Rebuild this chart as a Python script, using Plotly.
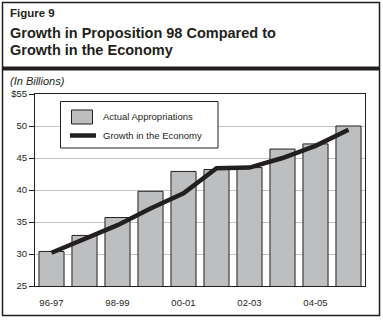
import plotly.graph_objects as go

# Fiscal years and values (billions of dollars)
years = ["96-97", "97-98", "98-99", "99-00", "00-01",
         "01-02", "02-03", "03-04", "04-05", "05-06"]
actual_appropriations = [30.4, 32.9, 35.7, 39.8, 42.9, 43.2, 43.5, 46.4, 47.2, 50.0]
economy_growth = [30.2, 32.3, 34.5, 37.1, 39.5, 43.4, 43.5, 45.0, 46.9, 49.4]
x_tick_labels = ["96-97", "98-99", "00-01", "02-03", "04-05"]
y_ticks = [25, 30, 35, 40, 45, 50, 55]
y_tick_text = ["25", "30", "35", "40", "45", "50", "$55"]

INK = "#231f20"
BAR_GRAY = "#bcbec0"
FONT = "Liberation Sans, Arial, sans-serif"

W, H = 383, 322
L, R, T, B = 35, 365, 94, 286  # plot area in pixels


def px(x):
    return (x - L) / (R - L)


def py(y):
    return (B - y) / (B - T)


fig = go.Figure()
fig.add_trace(go.Bar(
    x=years, y=actual_appropriations, name="Actual Appropriations",
    marker=dict(color=BAR_GRAY, line=dict(color=INK, width=1)),
    showlegend=False,
))
fig.add_trace(go.Scatter(
    x=years, y=economy_growth, name="Growth in the Economy", mode="lines",
    line=dict(color=INK, width=4.5), showlegend=False,
))

shapes = [
    # outer frame
    dict(type="rect", xref="paper", yref="paper",
         x0=px(2.5), x1=px(379.5), y0=py(315.5), y1=py(2.5),
         line=dict(color=INK, width=1.5)),
    # heavy rule under the heading
    dict(type="line", xref="paper", yref="paper",
         x0=px(2.5), x1=px(379.5), y0=py(68.5), y1=py(68.5),
         line=dict(color=INK, width=4)),
    # legend box
    dict(type="rect", xref="paper", yref="paper",
         x0=px(60.5), x1=px(218), y0=py(148), y1=py(101.5),
         line=dict(color=INK, width=1), fillcolor="white", layer="above"),
    # legend swatches
    dict(type="rect", xref="paper", yref="paper",
         x0=px(71.5), x1=px(92.5), y0=py(124), y1=py(110),
         line=dict(color=INK, width=1), fillcolor=BAR_GRAY, layer="above"),
    dict(type="line", xref="paper", yref="paper",
         x0=px(70), x1=px(96), y0=py(135.5), y1=py(135.5),
         line=dict(color=INK, width=4.5), layer="above"),
]

annotations = [
    dict(text="<b>Figure 9</b>", x=px(8), y=py(13), xanchor="left", yanchor="middle",
         font=dict(size=11.5, color=INK, family=FONT)),
    dict(text="<b>Growth in Proposition 98 Compared to</b>", x=px(8), y=py(33),
         xanchor="left", yanchor="middle",
         font=dict(size=14.5, color=INK, family=FONT)),
    dict(text="<b>Growth in the Economy</b>", x=px(8), y=py(50),
         xanchor="left", yanchor="middle",
         font=dict(size=14.5, color=INK, family=FONT)),
    dict(text="<i>(In Billions)</i>", x=px(8), y=py(81.5),
         xanchor="left", yanchor="middle",
         font=dict(size=11, color=INK, family=FONT)),
    dict(text="Actual Appropriations", x=px(101), y=py(116.5),
         xanchor="left", yanchor="middle",
         font=dict(size=9.5, color=INK, family=FONT)),
    dict(text="Growth in the Economy", x=px(101), y=py(135.5),
         xanchor="left", yanchor="middle",
         font=dict(size=9.5, color=INK, family=FONT)),
]
for a in annotations:
    a.update(xref="paper", yref="paper", showarrow=False)

fig.update_layout(
    width=W, height=H,
    margin=dict(l=L, r=W - R, t=T, b=H - B, pad=0),
    paper_bgcolor="white", plot_bgcolor="white",
    bargap=0.24,
    shapes=shapes, annotations=annotations,
    font=dict(family=FONT, color=INK, size=10),
)
fig.update_xaxes(
    type="category", tickmode="array", tickvals=x_tick_labels, ticktext=x_tick_labels,
    showgrid=False, showline=True, mirror=True, linecolor=INK, linewidth=1,
    ticks="", ticklabelstandoff=8, tickfont=dict(size=9.5, color=INK),
)
fig.update_yaxes(
    range=[25, 55], tickmode="array", tickvals=y_ticks, ticktext=y_tick_text,
    showgrid=True, gridcolor="#c4c4c4", gridwidth=1,
    showline=True, mirror=True, linecolor=INK, linewidth=1,
    ticks="outside", ticklen=5, tickcolor=INK, tickwidth=1,
    zeroline=False, tickfont=dict(size=9.5, color=INK),
)

fig.write_html("out.html")
